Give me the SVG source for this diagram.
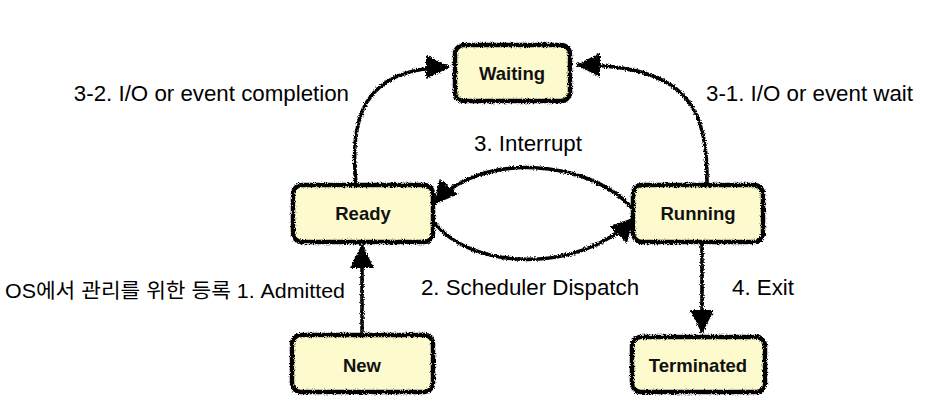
<svg xmlns="http://www.w3.org/2000/svg" width="946" height="410" viewBox="0 0 946 410">
<defs>
<style>
.box{fill:#fdfacd;stroke:#000;stroke-width:4.5;}
.nl{font-family:"Liberation Sans",Arial,sans-serif;font-size:18.5px;font-weight:bold;fill:#111;text-anchor:middle;}
.lb{font-family:"Liberation Sans",Arial,"Noto Sans CJK KR",sans-serif;font-size:22.3px;fill:#000;}
.edge{fill:none;stroke:#000;stroke-width:3.6;marker-end:url(#ah);}
</style>
<filter id="rough" x="-10%" y="-10%" width="120%" height="120%">
<feTurbulence type="fractalNoise" baseFrequency="0.9" numOctaves="2" seed="3" result="n"/>
<feDisplacementMap in="SourceGraphic" in2="n" scale="4" xChannelSelector="R" yChannelSelector="G"/>
</filter>
<marker id="ah" markerUnits="userSpaceOnUse" viewBox="0 0 24 24" markerWidth="24" markerHeight="24" refX="23" refY="12" orient="auto">
<path d="M0,0 L24,12 L0,24 z" fill="#000"/>
</marker>
</defs>
<rect width="946" height="410" fill="#fff"/>
<g id="connectors" filter="url(#rough)">
<path class="edge" d="M356,185 C350,120 360,68 449,67"/>
<path class="edge" d="M707,185 C708,110 690,65 577,65"/>
<path class="edge" d="M632,208 C590,160 480,150 434,204"/>
<path class="edge" d="M434,222 C470,270 580,275 634,218"/>
<path class="edge" d="M362,334 L362,245"/>
<path class="edge" d="M702,244 L702,333"/>
</g>
<g id="waiting">
<rect class="box" x="455" y="45" width="115" height="56" rx="9" filter="url(#rough)"/>
<text class="nl" x="512" y="80">Waiting</text>
</g>
<g id="ready">
<rect class="box" x="293" y="185" width="140" height="57" rx="9" filter="url(#rough)"/>
<text class="nl" x="363" y="220">Ready</text>
</g>
<g id="running">
<rect class="box" x="633" y="185" width="130" height="57" rx="9" filter="url(#rough)"/>
<text class="nl" x="698" y="220">Running</text>
</g>
<g id="new">
<rect class="box" x="292" y="335" width="141" height="57" rx="9" filter="url(#rough)"/>
<text class="nl" x="362" y="372">New</text>
</g>
<g id="terminated">
<rect class="box" x="632" y="337" width="133" height="55" rx="9" filter="url(#rough)"/>
<text class="nl" x="698" y="372">Terminated</text>
</g>
<g id="labels">
<text class="lb" x="349" y="101" text-anchor="end">3-2. I/O or event completion</text>
<text class="lb" x="706" y="101">3-1. I/O or event wait</text>
<text class="lb" x="528" y="151" text-anchor="middle">3. Interrupt</text>
<text class="lb" x="530" y="295" text-anchor="middle">2. Scheduler Dispatch</text>
<text class="lb" x="732" y="295">4. Exit</text>
<text class="lb" x="5" y="298" style="font-size:20.5px" textLength="340" lengthAdjust="spacingAndGlyphs">OS에서 관리를 위한 등록 1. Admitted</text>
</g>
</svg>
